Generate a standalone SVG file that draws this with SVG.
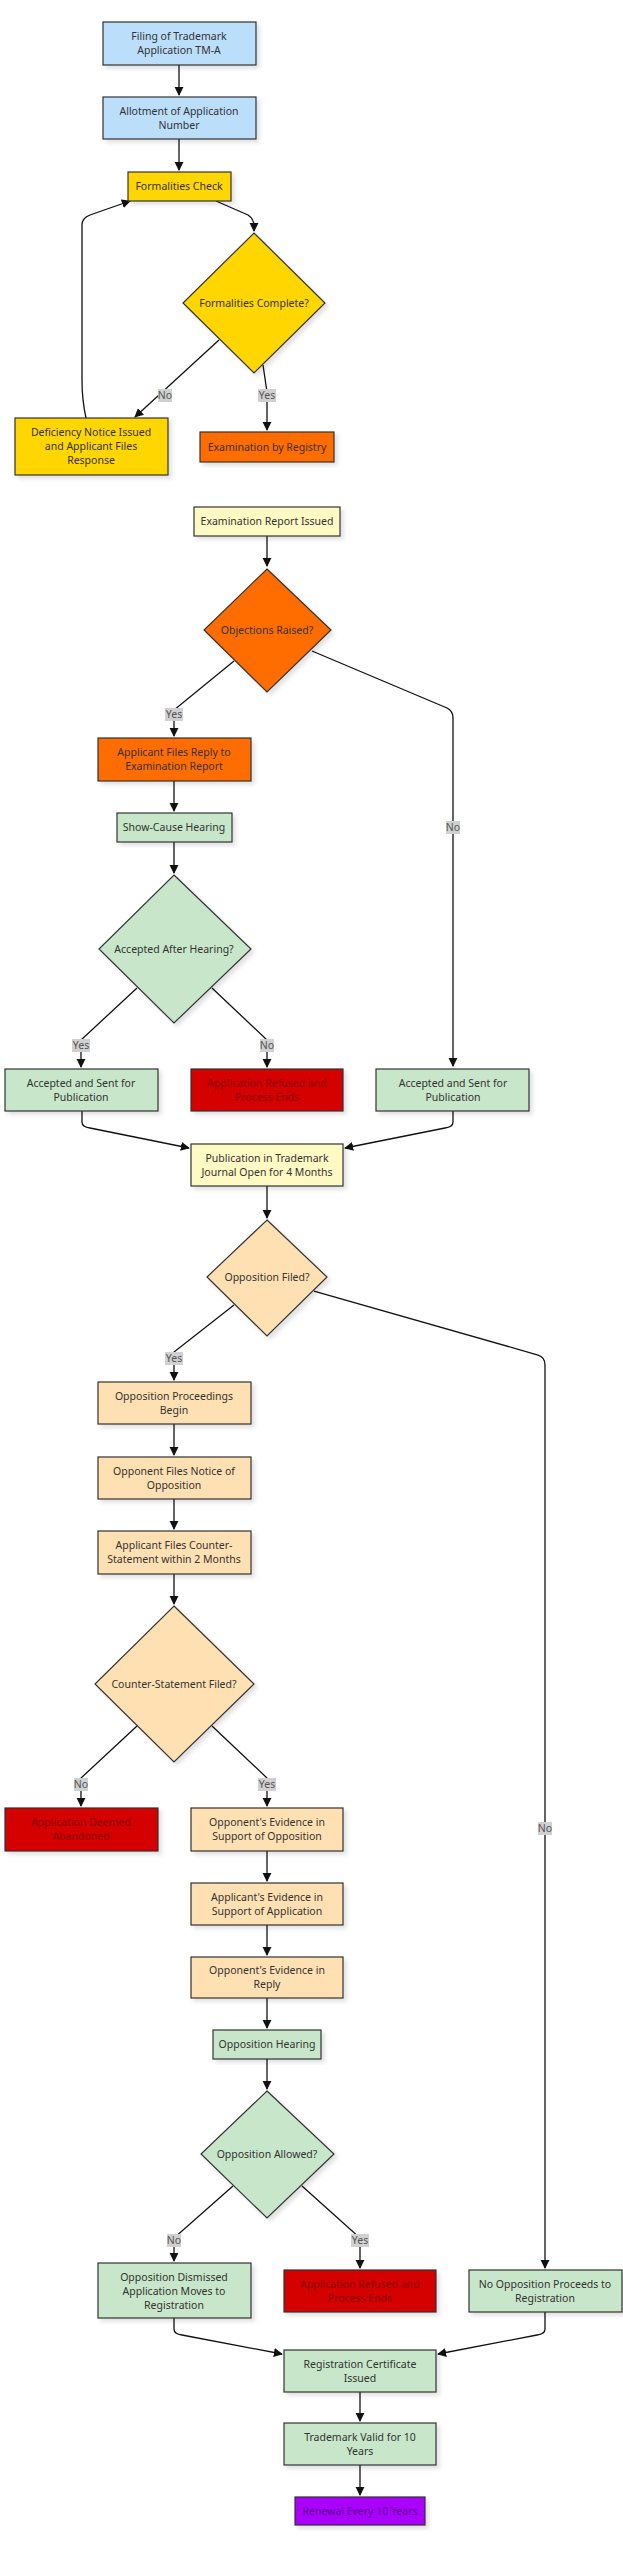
<svg xmlns="http://www.w3.org/2000/svg" width="623" height="2560" viewBox="0 0 623 2560">
<defs>
<marker id="ah" viewBox="0 0 10 10" refX="9" refY="5" markerWidth="7" markerHeight="7" orient="auto-start-reverse"><path d="M0,0L10,5L0,10z" fill="#111"/></marker>
<filter id="sh" x="-10%" y="-10%" width="130%" height="130%"><feDropShadow dx="3" dy="3" stdDeviation="2" flood-color="#000" flood-opacity="0.12"/></filter>
</defs>
<style>
rect,polygon{stroke:#333;stroke-width:1.2;filter:url(#sh)}
text{font-family:"Noto Sans","DejaVu Sans",sans-serif;font-size:10.5px;fill:#333;text-anchor:middle}
.blue{fill:#BBDEFB}.yel{fill:#FFD600}.org{fill:#FF6D00}.crm{fill:#FFF9C4}.grn{fill:#C8E6C9}.pch{fill:#FFE0B2}.red{fill:#D50000}.pur{fill:#AA00FF}
.rt{fill:#8B0000}.pt{fill:#5a0080}
#edges path{fill:none;stroke:#111;stroke-width:1.3;marker-end:url(#ah)}
.lb rect{fill:#d0d0d0;stroke:none;filter:none}
.lb text{fill:#555}
</style>
<rect x="0" y="0" width="623" height="2560" fill="#fff" style="stroke:none;filter:none"/>
<g id="edges">
<path d="M179,65V95"/>
<path d="M179,139V170"/>
<path d="M216,201L248,215Q254,219 254,226V231"/>
<path d="M219,340L135,417"/>
<path d="M263,365L267,392V430"/>
<path d="M86,418Q82,400 82,380V225Q82,218 90,215L130,201"/>
<path d="M267,536V566"/>
<path d="M234,661L174,710V736"/>
<path d="M312,651L447,708Q453,711 453,718V1066"/>
<path d="M174,781V811"/>
<path d="M174,842V873"/>
<path d="M137,988L81,1040V1067"/>
<path d="M212,988L267,1040V1067"/>
<path d="M82,1111V1122Q82,1127 90,1128L189,1148"/>
<path d="M453,1111V1122Q453,1127 445,1128L345,1148"/>
<path d="M267,1186V1218"/>
<path d="M234,1305L174,1352V1380"/>
<path d="M314,1291L538,1355Q545,1357 545,1365V2268"/>
<path d="M174,1424V1455"/>
<path d="M174,1499V1529"/>
<path d="M174,1574V1604"/>
<path d="M137,1726L81,1778V1806"/>
<path d="M212,1726L267,1778V1806"/>
<path d="M267,1851V1881"/>
<path d="M267,1925V1955"/>
<path d="M267,1998V2028"/>
<path d="M267,2059V2089"/>
<path d="M233,2186L174,2238V2261"/>
<path d="M302,2186L360,2238V2268"/>
<path d="M174,2318V2329Q174,2334 182,2335L282,2354"/>
<path d="M545,2312V2329Q545,2334 537,2335L438,2354"/>
<path d="M360,2392V2421"/>
<path d="M360,2465V2495"/>
<g class="lb"><rect x="158" y="389" width="14" height="13"/><text x="165" y="399">No</text>
<rect x="258" y="389" width="18" height="13"/><text x="267" y="399">Yes</text>
<rect x="165" y="708" width="18" height="13"/><text x="174" y="718">Yes</text>
<rect x="446" y="821" width="14" height="13"/><text x="453" y="831">No</text>
<rect x="72" y="1039" width="18" height="13"/><text x="81" y="1049">Yes</text>
<rect x="260" y="1039" width="14" height="13"/><text x="267" y="1049">No</text>
<rect x="165" y="1352" width="18" height="13"/><text x="174" y="1362">Yes</text>
<rect x="538" y="1822" width="14" height="13"/><text x="545" y="1832">No</text>
<rect x="74" y="1778" width="14" height="13"/><text x="81" y="1788">No</text>
<rect x="258" y="1778" width="18" height="13"/><text x="267" y="1788">Yes</text>
<rect x="167" y="2234" width="14" height="13"/><text x="174" y="2244">No</text>
<rect x="351" y="2234" width="18" height="13"/><text x="360" y="2244">Yes</text></g>
</g>
<g id="n1"><rect class="blue" x="103" y="22" width="153" height="43"/><text x="179" y="40">Filing of Trademark</text><text x="179" y="54">Application TM-A</text></g>
<g id="n2"><rect class="blue" x="103" y="97" width="153" height="42"/><text x="179" y="115">Allotment of Application</text><text x="179" y="129">Number</text></g>
<g id="n3"><rect class="yel" x="128" y="172" width="103" height="29"/><text x="179" y="190">Formalities Check</text></g>
<g id="n4"><polygon class="yel" points="254,233 325,303 254,373 183,303"/><text x="254" y="307">Formalities Complete?</text></g>
<g id="n5"><rect class="yel" x="15" y="418" width="153" height="57"/><text x="91" y="436">Deficiency Notice Issued</text><text x="91" y="450">and Applicant Files</text><text x="91" y="464">Response</text></g>
<g id="n6"><rect class="org" x="200" y="432" width="134" height="30"/><text x="267" y="451">Examination by Registry</text></g>
<g id="n7"><rect class="crm" x="194" y="507" width="146" height="29"/><text x="267" y="525">Examination Report Issued</text></g>
<g id="n8"><polygon class="org" points="267,569 331,630 267,692 204,630"/><text x="267" y="634">Objections Raised?</text></g>
<g id="n9"><rect class="org" x="98" y="738" width="153" height="43"/><text x="174" y="756">Applicant Files Reply to</text><text x="174" y="770">Examination Report</text></g>
<g id="n10"><rect class="grn" x="117" y="813" width="115" height="29"/><text x="174" y="831">Show-Cause Hearing</text></g>
<g id="n11"><polygon class="grn" points="174,875 251,949 174,1023 99,949"/><text x="174" y="953">Accepted After Hearing?</text></g>
<g id="n12"><rect class="grn" x="5" y="1069" width="153" height="42"/><text x="81" y="1087">Accepted and Sent for</text><text x="81" y="1101">Publication</text></g>
<g id="n13"><rect class="red" x="191" y="1069" width="152" height="42"/><text class="rt" x="267" y="1087">Application Refused and</text><text class="rt" x="267" y="1101">Process Ends</text></g>
<g id="n14"><rect class="grn" x="376" y="1069" width="153" height="42"/><text x="453" y="1087">Accepted and Sent for</text><text x="453" y="1101">Publication</text></g>
<g id="n15"><rect class="crm" x="191" y="1144" width="152" height="42"/><text x="267" y="1162">Publication in Trademark</text><text x="267" y="1176">Journal Open for 4 Months</text></g>
<g id="n16"><polygon class="pch" points="267,1220 327,1277 267,1336 207,1277"/><text x="267" y="1281">Opposition Filed?</text></g>
<g id="n17"><rect class="pch" x="98" y="1382" width="153" height="42"/><text x="174" y="1400">Opposition Proceedings</text><text x="174" y="1414">Begin</text></g>
<g id="n18"><rect class="pch" x="98" y="1457" width="153" height="42"/><text x="174" y="1475">Opponent Files Notice of</text><text x="174" y="1489">Opposition</text></g>
<g id="n19"><rect class="pch" x="98" y="1531" width="153" height="43"/><text x="174" y="1549">Applicant Files Counter-</text><text x="174" y="1563">Statement within 2 Months</text></g>
<g id="n20"><polygon class="pch" points="174,1606 254,1684 174,1762 95,1684"/><text x="174" y="1688">Counter-Statement Filed?</text></g>
<g id="n21"><rect class="red" x="5" y="1808" width="153" height="43"/><text class="rt" x="81" y="1826">Application Deemed</text><text class="rt" x="81" y="1840">Abandoned</text></g>
<g id="n22"><rect class="pch" x="191" y="1808" width="152" height="43"/><text x="267" y="1826">Opponent's Evidence in</text><text x="267" y="1840">Support of Opposition</text></g>
<g id="n23"><rect class="pch" x="191" y="1883" width="152" height="42"/><text x="267" y="1901">Applicant's Evidence in</text><text x="267" y="1915">Support of Application</text></g>
<g id="n24"><rect class="pch" x="191" y="1957" width="152" height="41"/><text x="267" y="1974">Opponent's Evidence in</text><text x="267" y="1988">Reply</text></g>
<g id="n25"><rect class="grn" x="213" y="2030" width="108" height="29"/><text x="267" y="2048">Opposition Hearing</text></g>
<g id="n26"><polygon class="grn" points="267,2091 334,2154 267,2218 201,2154"/><text x="267" y="2158">Opposition Allowed?</text></g>
<g id="n27"><rect class="grn" x="98" y="2263" width="153" height="55"/><text x="174" y="2281">Opposition Dismissed</text><text x="174" y="2295">Application Moves to</text><text x="174" y="2309">Registration</text></g>
<g id="n28"><rect class="red" x="284" y="2270" width="152" height="42"/><text class="rt" x="360" y="2288">Application Refused and</text><text class="rt" x="360" y="2302">Process Ends</text></g>
<g id="n29"><rect class="grn" x="469" y="2270" width="153" height="42"/><text x="545" y="2288">No Opposition Proceeds to</text><text x="545" y="2302">Registration</text></g>
<g id="n30"><rect class="grn" x="284" y="2350" width="152" height="42"/><text x="360" y="2368">Registration Certificate</text><text x="360" y="2382">Issued</text></g>
<g id="n31"><rect class="grn" x="284" y="2423" width="152" height="42"/><text x="360" y="2441">Trademark Valid for 10</text><text x="360" y="2455">Years</text></g>
<g id="n32"><rect class="pur" x="295" y="2497" width="130" height="28"/><text class="pt" x="360" y="2515">Renewal Every 10 Years</text></g>
</svg>
